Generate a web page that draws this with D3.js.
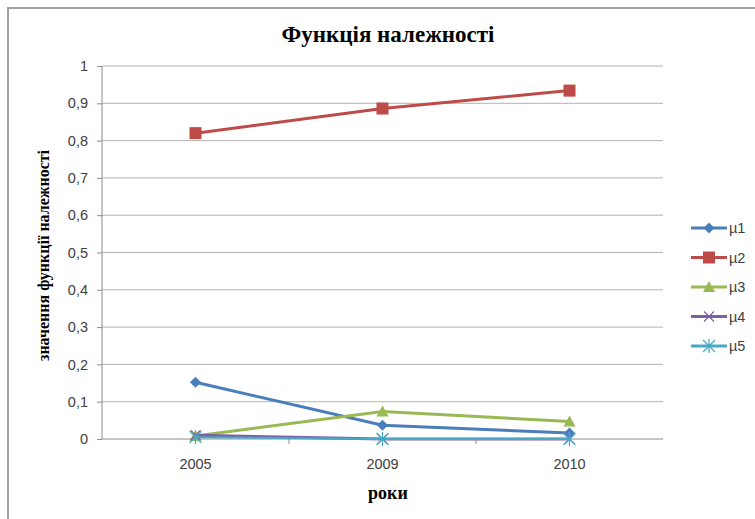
<html>
<head>
<script src="https://d3js.org/d3.v7.min.js"></script>
<style>
  body { margin: 0; background: #fff; }
</style>
</head>
<body>
<svg width="755" height="519"></svg>
<script>
const years = ["2005", "2009", "2010"];
const seriesNames = ["µ1", "µ2", "µ3", "µ4", "µ5"];
const mu1 = [0.152, 0.037, 0.016];
const mu2 = [0.820, 0.886, 0.934];
const mu3 = [0.008, 0.074, 0.047];
const mu4 = [0.010, 0.000, 0.000];
const mu5 = [0.005, 0.000, 0.000];
const yTicks = [0, 0.1, 0.2, 0.3, 0.4, 0.5, 0.6, 0.7, 0.8, 0.9, 1];

const colors = ["#4a7ebb", "#be4b48", "#98b954", "#7d60a0", "#46aac5"];
const shapes = ["diamond", "square", "triangle", "x", "star"];
const series = [mu1, mu2, mu3, mu4, mu5].map(function(v, i) {
  return { name: seriesNames[i], values: v, color: colors[i], shape: shapes[i] };
});

const svg = d3.select("svg");

// outer frame
svg.append("path")
  .attr("d", "M8,519 V8 H755")
  .attr("fill", "none")
  .attr("stroke", "#a0a0a0")
  .attr("stroke-width", 2);

const pLeft = 102, pRight = 663, pTop = 66, pBottom = 439;

const x = d3.scaleBand().domain(years).range([pLeft, pRight]);
const y = d3.scaleLinear().domain([0, 1]).range([pBottom, pTop]);

// gridlines
svg.append("g")
  .selectAll("line")
  .data(yTicks.slice(1))
  .enter().append("line")
  .attr("x1", pLeft).attr("x2", pRight)
  .attr("y1", function(d) { return y(d); })
  .attr("y2", function(d) { return y(d); })
  .attr("stroke", "#b3b3b3")
  .attr("stroke-width", 1);

// y axis
const yAxis = svg.append("g")
  .attr("transform", "translate(" + pLeft + ",0)")
  .call(d3.axisLeft(y).tickValues(yTicks).tickSize(5).tickPadding(9)
    .tickFormat(function(d) { return d3.format("")(d).replace(".", ","); }));
yAxis.select(".domain").attr("stroke", "#8c8c8c").attr("d", "M0," + pTop + "V" + pBottom);
yAxis.selectAll(".tick line").attr("stroke", "#8c8c8c");
yAxis.selectAll("text")
  .attr("font-family", "Liberation Sans, Arial, sans-serif")
  .attr("font-size", 14.5)
  .attr("fill", "#404040");

// x axis
const xAxis = svg.append("g")
  .attr("transform", "translate(0," + pBottom + ")")
  .call(d3.axisBottom(x).tickSize(0).tickPadding(20));
xAxis.select(".domain").attr("stroke", "#8c8c8c").attr("d", "M" + pLeft + ",0H" + pRight);
xAxis.selectAll("text")
  .attr("font-family", "Liberation Sans, Arial, sans-serif")
  .attr("font-size", 14.5)
  .attr("fill", "#404040");
// category separator ticks
svg.append("g")
  .selectAll("line")
  .data(years.slice(1))
  .enter().append("line")
  .attr("x1", function(d) { return x(d); })
  .attr("x2", function(d) { return x(d); })
  .attr("y1", pBottom).attr("y2", pBottom + 5)
  .attr("stroke", "#8c8c8c");

// titles
svg.append("text")
  .attr("x", 388).attr("y", 42)
  .attr("text-anchor", "middle")
  .attr("font-family", "Liberation Serif, Times New Roman, serif")
  .attr("font-weight", "bold")
  .attr("font-size", 23)
  .text("Функція належності");

svg.append("text")
  .attr("x", 388).attr("y", 499)
  .attr("text-anchor", "middle")
  .attr("font-family", "Liberation Serif, Times New Roman, serif")
  .attr("font-weight", "bold")
  .attr("font-size", 18)
  .text("роки");

svg.append("text")
  .attr("transform", "translate(49," + ((pTop + pBottom) / 2 + 3) + ") rotate(-90)")
  .attr("text-anchor", "middle")
  .attr("font-family", "Liberation Serif, Times New Roman, serif")
  .attr("font-weight", "bold")
  .attr("font-size", 16)
  .text("значення функції належності");

// markers
function drawMarker(g, shape, color, cx, cy) {
  if (shape === "diamond") {
    g.append("path").attr("d", "M" + cx + "," + (cy - 5.5) + "L" + (cx + 5.5) + "," + cy + "L" + cx + "," + (cy + 5.5) + "L" + (cx - 5.5) + "," + cy + "Z")
      .attr("fill", color);
  } else if (shape === "square") {
    g.append("rect").attr("x", cx - 6).attr("y", cy - 6).attr("width", 12).attr("height", 12).attr("fill", color);
  } else if (shape === "triangle") {
    g.append("path").attr("d", "M" + cx + "," + (cy - 6) + "L" + (cx + 6) + "," + (cy + 5) + "L" + (cx - 6) + "," + (cy + 5) + "Z")
      .attr("fill", color);
  } else if (shape === "x") {
    g.append("path").attr("d", "M" + (cx - 5) + "," + (cy - 5) + "L" + (cx + 5) + "," + (cy + 5) + "M" + (cx + 5) + "," + (cy - 5) + "L" + (cx - 5) + "," + (cy + 5))
      .attr("stroke", color).attr("stroke-width", 1.2).attr("fill", "none");
  } else if (shape === "star") {
    g.append("path").attr("d", "M" + (cx - 6) + "," + (cy - 6) + "L" + (cx + 6) + "," + (cy + 6) + "M" + (cx + 6) + "," + (cy - 6) + "L" + (cx - 6) + "," + (cy + 6) + "M" + cx + "," + (cy - 7) + "L" + cx + "," + (cy + 7))
      .attr("stroke", color).attr("stroke-width", 1.2).attr("fill", "none");
  }
}

const line = d3.line()
  .x(function(d, i) { return x(years[i]) + x.bandwidth() / 2; })
  .y(function(d) { return y(d); });

series.forEach(function(s) {
  const g = svg.append("g");
  g.append("path")
    .attr("d", line(s.values))
    .attr("fill", "none")
    .attr("stroke", s.color)
    .attr("stroke-width", s.shape === "star" ? 2 : 3);
  s.values.forEach(function(v, i) {
    drawMarker(g, s.shape, s.color, x(years[i]) + x.bandwidth() / 2, y(v));
  });
});

// legend
const legend = svg.append("g");
series.forEach(function(s, i) {
  const ly = 228 + i * 29.5;
  legend.append("line")
    .attr("x1", 691).attr("x2", 727)
    .attr("y1", ly).attr("y2", ly)
    .attr("stroke", s.color).attr("stroke-width", 3);
  drawMarker(legend, s.shape, s.color, 709, ly);
  legend.append("text")
    .attr("x", 729).attr("y", ly + 5)
    .attr("font-family", "Liberation Sans, Arial, sans-serif")
    .attr("font-size", 14.5)
    .attr("fill", "#404040")
    .text(s.name);
});
</script>
</body>
</html>
